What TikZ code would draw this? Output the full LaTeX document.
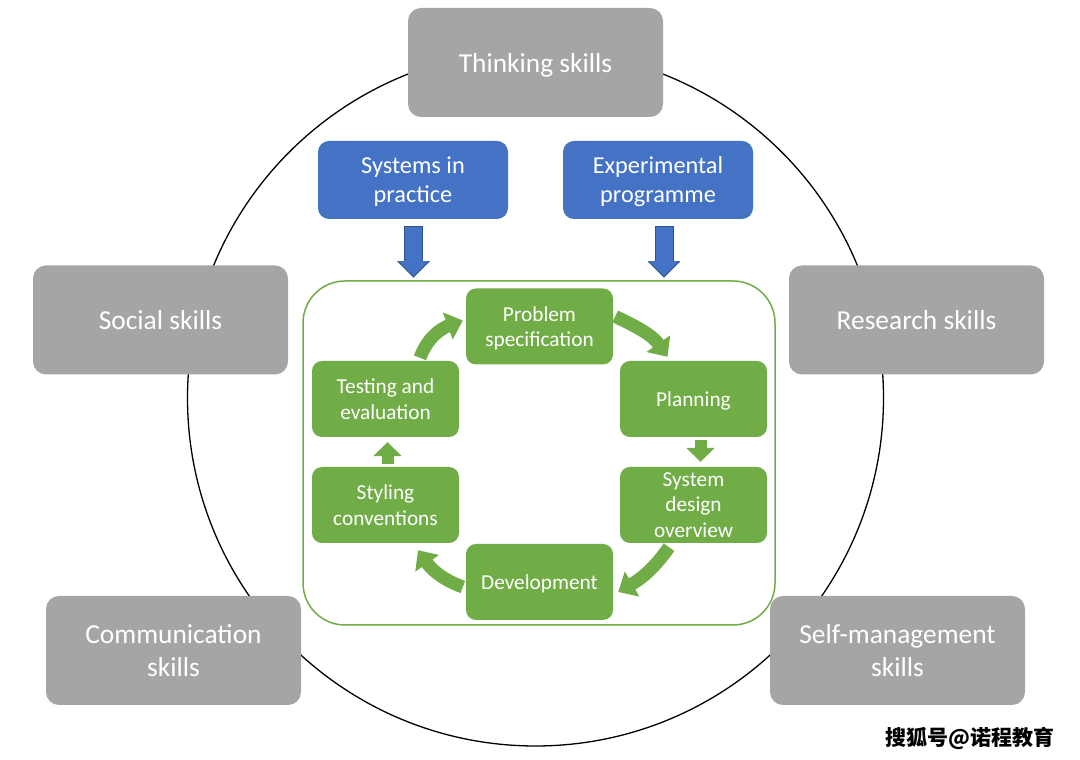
\documentclass[tikz,border=0pt]{standalone}
\usepackage{fontspec}
\setmainfont{Carlito}
\newfontfamily\cjk{Noto Sans CJK SC}
\usepackage{tikz}
\usetikzlibrary{arrows.meta,calc}
\definecolor{skillgray}{HTML}{A5A5A5}
\definecolor{unitblue}{HTML}{4472C4}
\definecolor{unitedge}{HTML}{2F528F}
\definecolor{stagegreen}{HTML}{70AD47}

\begin{document}
\begin{tikzpicture}[x=1pt,y=1pt,
	textbox/.style={text=white, align=center, text depth=0pt},
	skillbox/.style={textbox, fill=skillgray, rounded corners=13pt, minimum width=255pt, minimum height=109pt, font=\fontsize{27.4}{33}\selectfont},
	unitbox/.style={textbox, fill=unitblue, rounded corners=11pt, minimum width=190pt, minimum height=78pt, font=\fontsize{24.3}{29}\selectfont},
	stagebox/.style={textbox, fill=stagegreen, rounded corners=10pt, minimum width=147pt, minimum height=76pt, inner sep=1pt, font=\fontsize{21.3}{25.5}\selectfont},
	cyclearrow/.style={draw=stagegreen, line width=13pt, -{Triangle[width=28pt,length=16pt]}},
	steparrow/.style={draw=stagegreen, line width=12pt, -{Triangle[width=28pt,length=14pt]}},
	feedarrow/.style={draw=unitblue, line width=17pt, -{Triangle[width=29pt,length=15pt]}, preaction={draw=unitedge, line width=19pt, -{Triangle[width=31.5pt,length=16.5pt]}, shorten >=-1.5pt, shorten <=-1pt}}]
	\fill[white] (0,0) rectangle (1080,760);
	\useasboundingbox (0,0) rectangle (1080,760);
	\draw[line width=1.3pt] (535.5,362) circle (348);
	\node[skillbox] (think) at (535.5,697.5) {Thinking skills};
	\node[skillbox] (social) at (160.5,440) {Social skills};
	\node[skillbox] (research) at (916.5,440) {Research skills};
	\node[skillbox] (comm) at (173.5,109.5) {Communication\\skills};
	\node[skillbox] (selfman) at (897.5,109.5) {Self-management\\skills};
	\node[unitbox] (sip) at (413,580) {Systems in\\practice};
	\node[unitbox] (expprog) at (658,580) {Experimental\\programme};
	\node[draw=stagegreen, line width=1.5pt, rounded corners=42pt, minimum width=472pt, minimum height=344pt] (frame) at (539,307) {};
	\node[stagebox] (prob) at (539.5,433.5) {Problem\\specification};
	\node[stagebox] (plan) at (693.5,361) {Planning};
	\node[stagebox] (sysdes) at (693.5,255) {System\\design\\overview};
	\node[stagebox] (dev) at (539.5,178) {Development};
	\node[stagebox] (styl) at (385.5,255) {Styling\\conventions};
	\node[stagebox] (test) at (385.5,361) {Testing and\\evaluation};
	\draw[feedarrow] ($(sip.south)+(0.5,-8)$) -- ($(sip.south |- frame.north)+(0.5,4)$);
	\draw[feedarrow] ($(expprog.south)+(6,-8)$) -- ($(expprog.south |- frame.north)+(6,4)$);
	\draw[cyclearrow] ([xshift=2pt,yshift=10pt]prob.east) to[out=-25,in=125] ([xshift=-26pt,yshift=4pt]plan.north);
	\draw[steparrow] ([xshift=7pt,yshift=-3pt]plan.south) -- ([xshift=7pt,yshift=5pt]sysdes.north);
	\draw[cyclearrow] ([xshift=-24.5pt,yshift=-4pt]sysdes.south) to[out=235,in=30] ([xshift=5pt,yshift=-10pt]dev.east);
	\draw[cyclearrow] ([xshift=-3pt,yshift=-5pt]dev.west) to[out=160,in=-55] ([xshift=32.5pt,yshift=-7pt]styl.south);
	\draw[steparrow] ([xshift=2pt,yshift=3pt]styl.north) -- ([xshift=2pt,yshift=-5pt]test.south);
	\draw[cyclearrow] ([xshift=34.5pt,yshift=3pt]test.north) to[out=70,in=200] ([xshift=-3pt,yshift=6pt]prob.west);
	\node[font=\cjk\bfseries\fontsize{21}{21}\selectfont] (mark) at (970,22) {搜狐号@诺程教育};
\end{tikzpicture}
\end{document}
